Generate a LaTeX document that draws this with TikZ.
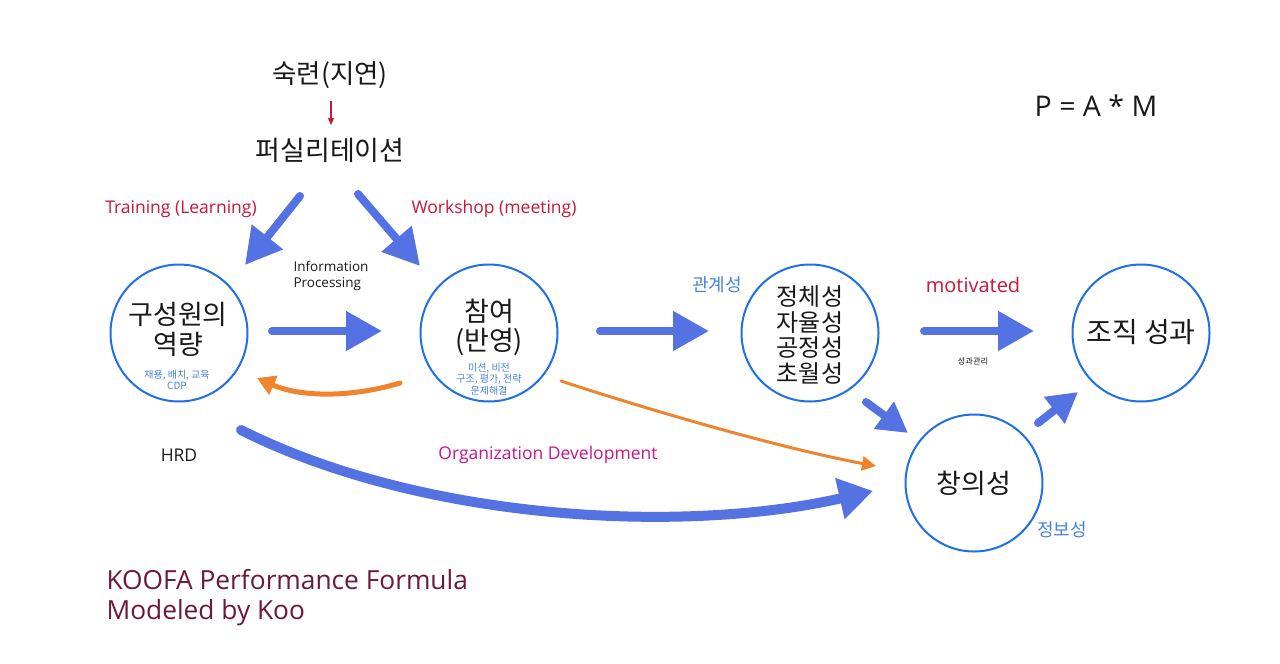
\documentclass[tikz,border=0pt]{standalone}
\usepackage{fontspec}
\setmainfont{Noto Sans CJK KR}
\newfontfamily\lat{Open Sans}
\usetikzlibrary{arrows.meta}
\definecolor{cblue}{RGB}{31,111,230}
\definecolor{arrblue}{RGB}{84,114,226}
\definecolor{lblue}{RGB}{70,130,225}
\definecolor{cred}{RGB}{200,22,55}
\definecolor{cmag}{RGB}{200,20,140}
\definecolor{corange}{RGB}{240,132,44}
\definecolor{maroon}{RGB}{108,24,60}
\definecolor{txt}{RGB}{25,25,25}
\tikzset{
  circ/.style={draw=cblue, line width=2pt, circle, minimum size=137pt, inner sep=0pt},
  fat/.style={draw=arrblue, line width=8pt, line cap=round, -{Triangle[width=38pt,length=36pt]}},
  fatbig/.style={draw=arrblue, line width=10pt, line cap=round, -{Triangle[width=40pt,length=34pt]}},
  orarr/.style={draw=corange, line width=#1, line cap=round},
  big/.style={font=\fontsize{27}{31}\selectfont, text=txt, align=center},
  redlbl/.style={font=\lat\fontsize{17.5}{20}\selectfont, text=cred},
  bluelbl/.style={font=\fontsize{18}{21}\selectfont, text=lblue},
  small/.style={font=\fontsize{10}{11.5}\selectfont, text=lblue, align=center},
  kootext/.style={font=\lat\fontsize{26.3}{30}\selectfont, text=maroon, anchor=base west},
}
\begin{document}
\begin{tikzpicture}[x=1pt,y=-1pt]
\useasboundingbox (0,0) rectangle (1280,664);
% circles
\node[circ] (c1) at (179,333) {};
\node[circ] (c2) at (489,333) {};
\node[circ] (c3) at (810,333) {};
\node[circ] (c4) at (1141,333) {};
\node[circ] (c5) at (974,483) {};
% circle texts
\node[big, font=\fontsize{27}{30}\selectfont] (t1) at (178,329) {구성원의\\역량};
\node[small] (s1) at (177,380) {채용, 배치, 교육\\CDP};
\node[big, font=\fontsize{27}{29}\selectfont] (t2) at (489,327) {참여\\(반영)};
\node[small] (s2) at (489,379) {미션, 비전\\구조, 평가, 전략\\문제해결};
\node[big, font=\fontsize{24}{25.5}\selectfont] (t3) at (810,335) {정체성\\자율성\\공정성\\초월성};
\node[big, font=\fontsize{28}{31}\selectfont] (t4) at (1141,332) {조직 성과};
\node[big] (t5) at (974,483) {창의성};
% top
\node[big, font=\fontsize{26.5}{30}\selectfont] (sk) at (330,75) {숙련(지연)};
\node[big] (fa) at (330,150) {퍼실리테이션};
\coordinate (r1) at (331,101); \coordinate (r2) at (331,125);
\draw[cred, line width=1.2pt, -{Triangle[width=6pt,length=7pt]}] (r1) -- (r2);
\node[font=\lat\fontsize{28.5}{32}\selectfont, text=txt] (pam) at (1096,106) {P = A * M};
% labels
\node[redlbl] (lt) at (181,209) {Training (Learning)};
\node[redlbl] (lw) at (494,209) {Workshop (meeting)};
\node[font=\lat\fontsize{13.5}{15.5}\selectfont, text=txt, align=left, anchor=west] (ip) at (290,276) {Information\\Processing};
\node[bluelbl] (lg) at (717,285) {관계성};
\node[font=\lat\fontsize{20}{24}\selectfont, text=cred] (mo) at (973,285) {motivated};
\node[font=\fontsize{8.3}{9}\selectfont, text=txt] (sg) at (973,361) {성과관리};
\node[bluelbl] (lj) at (1062,530) {정보성};
\node[font=\lat\fontsize{17.5}{20}\selectfont, text=txt] (hrd) at (179,455) {HRD};
\node[font=\lat\fontsize{17.5}{20}\selectfont, text=cmag] (od) at (548,455) {Organization Development};
\node[kootext] (ko1) at (103,589) {KOOFA Performance Formula};
\node[kootext] (ko2) at (103,619) {Modeled by Koo};
% fat arrows
\coordinate (a1s) at (300,196); \coordinate (a1e) at (245,265);
\coordinate (a2s) at (358,194); \coordinate (a2e) at (420,266);
\coordinate (a3s) at (272,331); \coordinate (a3e) at (382,331);
\coordinate (a4s) at (600,331); \coordinate (a4e) at (709,331);
\coordinate (a5s) at (924,331); \coordinate (a5e) at (1034,331);
\coordinate (a6s) at (866,402); \coordinate (a6e) at (908,433);
\coordinate (a7s) at (1038,423); \coordinate (a7e) at (1078,392);
\draw[fat] (a1s) -- (a1e);
\draw[fat] (a2s) -- (a2e);
\draw[fat] (a3s) -- (a3e);
\draw[fat] (a4s) -- (a4e);
\draw[fat] (a5s) -- (a5e);
\draw[fat, -{Triangle[width=32pt,length=30pt]}] (a6s) -- (a6e);
\draw[fat, -{Triangle[width=32pt,length=30pt]}] (a7s) -- (a7e);
% big curved arrow
\coordinate (bs) at (241,430); \coordinate (be) at (873,491);
\draw[fatbig] (bs) .. controls (420,520) and (680,535) .. (be);
% orange arrows
\coordinate (os) at (561,381); \coordinate (oe) at (876,466);
\draw[orarr=3pt, -{Triangle[width=14pt,length=14pt]}] (os) .. controls (680,420) and (800,452) .. (oe);
\coordinate (bs2) at (400,383); \coordinate (be2) at (257,378);
\draw[orarr=5pt, -{Triangle[width=20pt,length=18pt]}] (bs2) .. controls (350,398) and (300,397) .. (be2);
\end{tikzpicture}
\end{document}
